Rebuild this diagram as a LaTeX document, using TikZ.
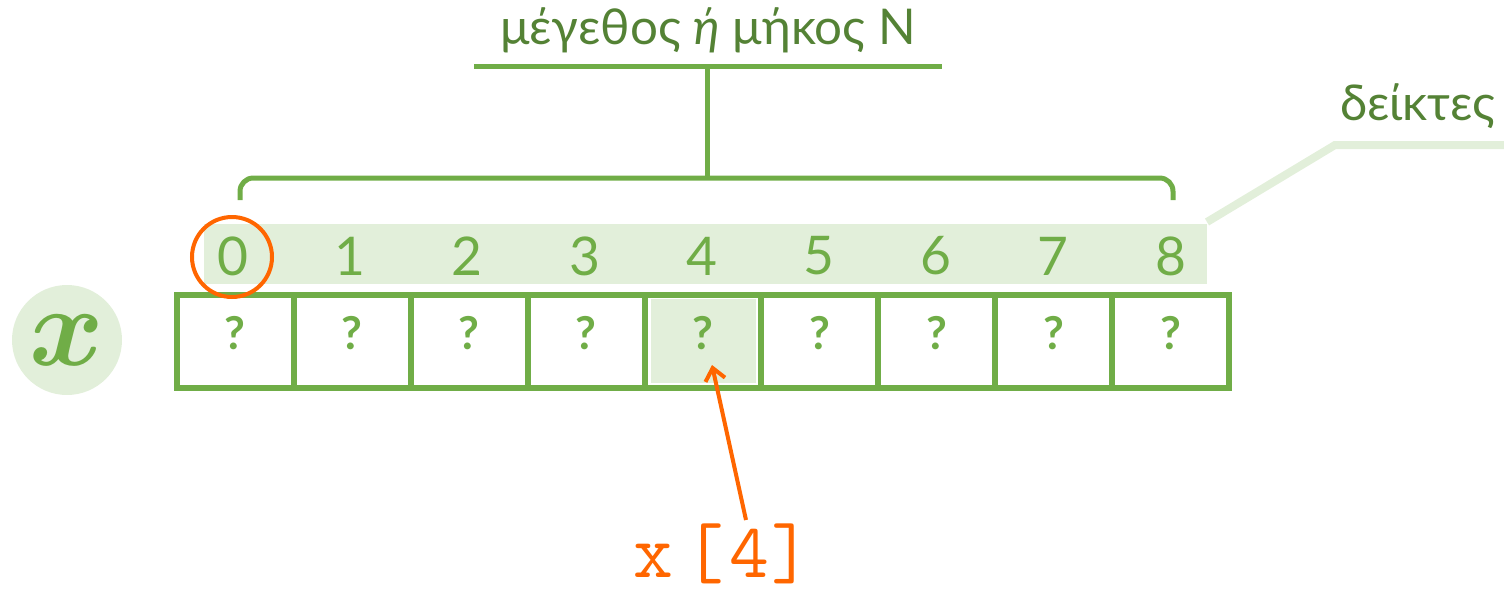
\documentclass[tikz,border=0pt]{standalone}
\usepackage{fontspec}
\setmainfont{Lato}
\usepackage{amsmath}
\usepackage{graphicx}
\usetikzlibrary{arrows.meta}

\definecolor{arrgreen}{RGB}{112,173,71}
\definecolor{arrdark}{RGB}{84,130,53}
\definecolor{arrlight}{RGB}{226,239,218}
\definecolor{arrorange}{RGB}{255,102,0}

\begin{document}
\begin{tikzpicture}[x=0.75pt, y=-0.75pt,
    cellbox/.style={draw=arrgreen, line width=4.5pt, minimum width=87.7pt, minimum height=69.75pt, inner sep=0pt},
    qmark/.style={text=arrgreen, font=\fontsize{34}{34}\selectfont\bfseries},
    idxnum/.style={text=arrgreen, font=\fontsize{40}{40}\selectfont},
    greektxt/.style={text=arrdark, font=\fontsize{37}{37}\selectfont},
    bracket/.style={draw=arrgreen, line width=3.75pt},
    ptr/.style={draw=arrorange, line width=3pt, -{Straight Barb[length=9pt,width=15pt,line width=3pt]}}]

\useasboundingbox (0,0) rectangle (1504,593);

% index band and its pointer
\fill[arrlight] (204,224) rectangle (1207,284);
\draw[arrlight, line width=6pt] (1207,222) -- (1335,145) -- (1504,145);
\node[greektxt, anchor=east] (idxlabel) at (1500,106) {δείκτες};

% selected element
\fill[arrlight] (651,299) rectangle (756,383);

% cells with their indices
\foreach \i in {0,...,8} {
    \node[cellbox] (c\i) at (235.4+116.9*\i, 341.5) {};
    \node[qmark] (q\i) at ([yshift=6.4pt]c\i.center) {?};
    \node[idxnum] (n\i) at (233+117.2*\i, 256) {\i};
}

\node[draw=arrorange, line width=3pt, circle, minimum size=60pt] (zeroring) at (232,257) {};

% array name
\node[circle, fill=arrlight, minimum size=82.5pt, text=arrgreen] (xname) at (67,340) {\scalebox{8.5}{$\boldsymbol{x}$}};

% size bracket
\draw[bracket, rounded corners=10pt] (240,200) |- (707,178) -| (1173,200);
\coordinate (bracetop) at (707,178);
\coordinate (titlebar) at (707,66);
\draw[bracket] (bracetop) -- (titlebar);
\draw[bracket] (474,66) -- (942,66);
\node[greektxt] (title) at (708,30) {μέγεθος \textit{ή} μήκος N};

% element access
\node[text=arrorange, font=\ttfamily\fontsize{58}{58}\selectfont, inner sep=0pt] (access) at (722,554) {x\kern9pt[\kern4pt4\kern1pt]};
\coordinate (tail) at (746,520);
\coordinate (tip) at (712,365);
\draw[ptr] (tail) -- (tip);

\end{tikzpicture}
\end{document}
